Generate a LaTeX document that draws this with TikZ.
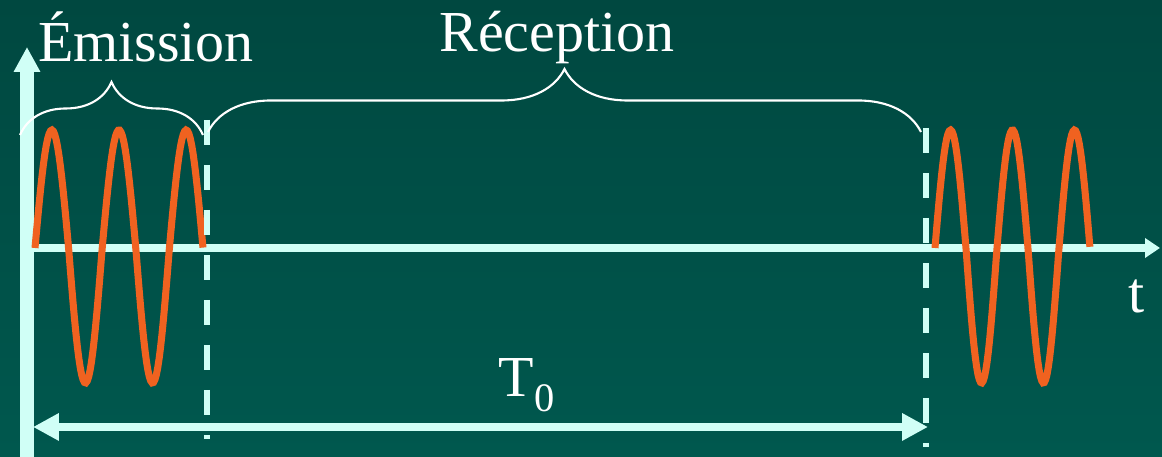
\documentclass[tikz,border=0pt]{standalone}
\usepackage{fontspec}
\setmainfont{Liberation Serif}
\definecolor{bgtop}{RGB}{0,72,64}
\definecolor{bgbottom}{RGB}{0,88,78}
\definecolor{axiscyan}{RGB}{208,255,246}
\definecolor{waveorange}{RGB}{240,98,32}
\usetikzlibrary{arrows.meta,decorations.pathreplacing}

\tikzset{
  axisline/.style={draw=axiscyan},
  wave/.style={draw=waveorange, line width=2pt},
  cutline/.style={draw=axiscyan, line width=1.9pt, dash pattern=on 0.25cm off 0.2cm},
  bracket/.style={draw=white, line width=0.6pt, decorate, decoration={brace, amplitude=#1}},
  textlabel/.style={text=white, inner sep=0pt, font=\fontsize{16.5}{20}\selectfont},
}

\begin{document}
\begin{tikzpicture}
  \useasboundingbox (0,0) rectangle (11.62,4.57);
  % Background
  \shade[top color=bgtop, bottom color=bgbottom] (0,0) rectangle (11.62,4.57);
  % Axes
  \coordinate (ybot) at (0.27,0);
  \coordinate (ytop) at (0.27,4.10);
  \coordinate (xbeg) at (0.33,2.09);
  \coordinate (xend) at (11.60,2.09);
  \draw[axisline, line width=2.3pt, -{Triangle[length=0.15cm, width=0.19cm]}] (xbeg) -- (xend);
  \draw[axisline, line width=3.7pt, -{Triangle[length=0.25cm, width=0.25cm]}] (ybot) -- (ytop);
  % Emitted and received pulses
  \draw[wave] plot[domain=0:1.68, samples=120]
    ({0.35+\x}, {2.09+(sin(\x*360/0.672)>0 ? 1.18 : 1.35)*sin(\x*360/0.672)});
  \draw[wave] plot[domain=0:1.55, samples=120]
    ({9.35+\x}, {2.09+(sin(\x*360/0.62)>0 ? 1.18 : 1.35)*sin(\x*360/0.62)});
  % Dashed markers
  \coordinate (cutAtop) at (2.07,3.37);
  \coordinate (cutAbot) at (2.07,0.18);
  \coordinate (cutBtop) at (9.26,3.29);
  \coordinate (cutBbot) at (9.26,0.10);
  \draw[cutline] (cutAtop) -- (cutAbot);
  \draw[cutline] (cutBtop) -- (cutBbot);
  % Period arrow
  \coordinate (perL) at (0.33,0.30);
  \coordinate (perR) at (9.28,0.30);
  \draw[axisline, line width=2.4pt, {Triangle[length=0.26cm, width=0.26cm]}-{Triangle[length=0.26cm, width=0.26cm]}] (perL) -- (perR);
  \node[textlabel, anchor=base west] (period) at (4.98,0.60) {T\raisebox{-0.15cm}{\fontsize{11.5}{12}\selectfont 0}};
  % Braces
  \coordinate (emisL) at (0.20,3.22);
  \coordinate (emisR) at (2.03,3.22);
  \coordinate (recL) at (2.08,3.25);
  \coordinate (recR) at (9.21,3.25);
  \draw[bracket=0.53cm] (emisL) -- (emisR);
  \draw[bracket=0.63cm] (recL) -- (recR);
  \node[textlabel, anchor=base] (emission) at (1.46,3.95) {Émission};
  \node[textlabel, anchor=base] (reception) at (5.57,4.05) {Réception};
  \node[textlabel, anchor=base west] (tlabel) at (11.28,1.44) {t};
\end{tikzpicture}
\end{document}
